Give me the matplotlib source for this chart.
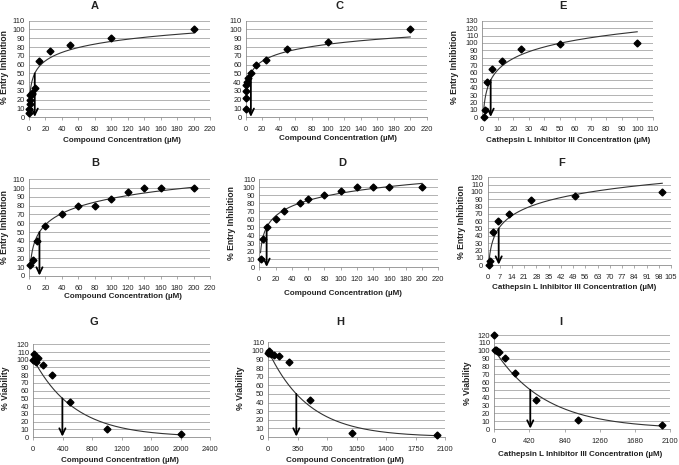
import numpy as np
import matplotlib
matplotlib.use('Agg')
import matplotlib.pyplot as plt

plt.rcParams['font.family'] = ['Liberation Sans', 'DejaVu Sans']

# data --------------------------------------------------------------------

# A: compound, entry inhibition
a_x = [0.2, 0.4, 0.8, 1.0, 1.6, 3.1, 4, 7, 12.5, 25, 50, 100, 200]
a_y = [5, 10, 15, 20, 25, 27, 28, 33, 64, 75, 82, 90, 100]
# B
b_x = [1.5, 5, 10, 20, 40, 60, 80, 100, 120, 140, 160, 200]
b_y = [12, 18, 40, 57, 70, 80, 80, 88, 95, 100, 100, 100]
# C
c_x = [0.2, 0.4, 0.6, 0.8, 2, 3.1, 6.25, 12.5, 25, 50, 100, 200]
c_y = [10, 22, 30, 37, 40, 45, 50, 59, 65, 78, 86, 100]
# D
d_x = [1.5, 5, 10, 20, 30, 50, 60, 80, 100, 120, 140, 160, 200]
d_y = [10, 35, 50, 60, 70, 80, 85, 90, 95, 100, 100, 100, 100]
# E: cathepsin L inhibitor III
e_x = [0.78, 1.56, 3.125, 6.25, 12.5, 25, 50, 100]
e_y = [0, 10, 47, 65, 76, 92, 98, 100]
# F
f_x = [0.78, 1.56, 3.125, 6.25, 12.5, 25, 50, 100]
f_y = [0, 5, 45, 60, 70, 89, 95, 100]
# G: viability
g_x = [2, 8, 16, 31, 62, 125, 250, 500, 1000, 2000]
g_y = [100, 107, 100, 97, 102, 93, 80, 45, 10, 4]
# H
h_x = [1, 4, 12, 31, 62, 125, 250, 500, 1000, 2000]
h_y = [98, 100, 97, 96, 95, 94, 87, 43, 5, 2]
# I
i_x = [1, 8, 16, 31, 62, 125, 250, 500, 1000, 2000]
i_y = [120, 101, 101, 100, 98, 91, 71, 37, 12, 5]

# trendlines: log fits (slope, 50% point) and exponential fits (start, 50% point)
log_slope = {'A': 13.7, 'B': 18.5, 'C': 12.0, 'D': 17.7, 'E': 22.3, 'F': 22.5}
log_start = {'A': 1.0, 'B': 1.5, 'C': 1.0, 'D': 1.5, 'E': 0.9, 'F': 1.0}
exp_amp = {'G': 101, 'H': 100, 'I': 101}
ic50 = {'A': 7, 'B': 12.7, 'C': 6.3, 'D': 9, 'E': 5.4, 'F': 6.4,
        'G': 395, 'H': 333, 'I': 430}

W, H = 679, 465
fig = plt.figure(figsize=(W / 100, H / 100), dpi=100)

TXT = '#222222'
GRID = '#a6a6a6'

cmp_lab = 'Compound Concentration (\u00b5M)'
cat_lab = 'Cathepsin L Inhibitor III Concentration (\u00b5M)'
ent_lab = '% Entry Inhibition'
via_lab = '% Viability'

# name, x, y, axes box px (x0, x1, ytop, y0), xmax, xstep, ymax,
# title pos, xlabel, xlabel pos, ylabel, ylabel pos
panels = [
    ('A', a_x, a_y, (29, 210, 20.7, 117.3), 220, 20, 110, (95, 6),
     cmp_lab, (122, 141), ent_lab, (5, 67)),
    ('C', c_x, c_y, (245.7, 426.7, 20.7, 117.3), 220, 20, 110, (340, 6),
     cmp_lab, (338, 139), None, None),
    ('E', e_x, e_y, (482.3, 652.7, 20.7, 117.3), 110, 10, 130, (563, 6),
     cat_lab, (568, 141), ent_lab, (455, 67)),
    ('B', b_x, b_y, (29, 210, 179.3, 276), 220, 20, 110, (95, 163),
     cmp_lab, (123, 296.7), ent_lab, (5, 227)),
    ('D', d_x, d_y, (259.3, 438.3, 179.3, 267.3), 220, 20, 110, (342, 163),
     cmp_lab, (343, 293), ent_lab, (232, 223)),
    ('F', f_x, f_y, (487.5, 671, 177.3, 265), 105, 7, 120, (562, 163),
     cat_lab, (574, 287.5), ent_lab, (462, 222)),
    ('G', g_x, g_y, (33.3, 210, 344.3, 437), 2400, 400, 120, (94, 322),
     cmp_lab, (120, 460), via_lab, (5, 388)),
    ('H', h_x, h_y, (268.3, 445, 342.3, 437), 2100, 350, 110, (340, 322),
     cmp_lab, (345, 460), via_lab, (240, 388)),
    ('I', i_x, i_y, (494.3, 670, 335, 429), 2100, 420, 120, (561, 322),
     cat_lab, (580, 454), via_lab, (468, 383)),
]

for (name, xs, ys, box, xmax, xstep, ymax, tpos,
     xlab, xlpos, ylab, ylpos) in panels:
    x0, x1, yt, yb = box
    ax = fig.add_axes([x0 / W, 1 - yb / H, (x1 - x0) / W, (yb - yt) / H])

    # trend curve
    if name in log_slope:
        s = log_slope[name]
        cx = np.geomspace(log_start[name], max(xs), 200)
        cy = 50 + s * np.log(cx / ic50[name])
    else:
        amp = exp_amp[name]
        k = np.log(amp / 50) / ic50[name]
        cx = np.linspace(min(xs), max(xs), 200)
        cy = amp * np.exp(-k * cx)
    ax.plot(cx, cy, color='#333333', lw=0.8, zorder=3)

    ax.plot(xs, ys, 'D', color='black', ms=3.5, zorder=4, clip_on=False)

    # IC50 / CC50 arrow
    ax.annotate('', xy=(ic50[name], 0.5), xytext=(ic50[name], 50),
                arrowprops=dict(arrowstyle='->,head_length=0.45,head_width=0.22',
                                color='black', lw=1.3, shrinkA=0, shrinkB=0),
                zorder=5)

    ax.set_xlim(0, xmax)
    ax.set_ylim(0, ymax)
    ax.set_xticks(np.arange(0, xmax + 1, xstep))
    ax.set_yticks(np.arange(0, ymax + 1, 10))
    ax.grid(axis='y', color=GRID, lw=0.6)
    ax.set_axisbelow(True)
    for sp in ['top', 'right']:
        ax.spines[sp].set_visible(False)
    for sp in ['left', 'bottom']:
        ax.spines[sp].set_color('#8c8c8c')
        ax.spines[sp].set_linewidth(0.6)
    ax.tick_params(axis='x', labelsize=5.4, colors=TXT, length=2,
                   width=0.5, color='#8c8c8c', pad=4.5)
    ax.tick_params(axis='y', labelsize=5.4, colors=TXT, length=0, pad=3)

    fig.text(tpos[0] / W, 1 - tpos[1] / H, name, ha='center', va='center',
             fontsize=8, fontweight='bold', color=TXT)
    fig.text(xlpos[0] / W, 1 - xlpos[1] / H, xlab, ha='center', va='center',
             fontsize=5.8, fontweight='bold', color=TXT)
    if ylab:
        fig.text(ylpos[0] / W, 1 - ylpos[1] / H, ylab, ha='center',
                 va='center', rotation=90, fontsize=6.2, fontweight='bold',
                 color=TXT)

fig.savefig('out.png', dpi=100)
